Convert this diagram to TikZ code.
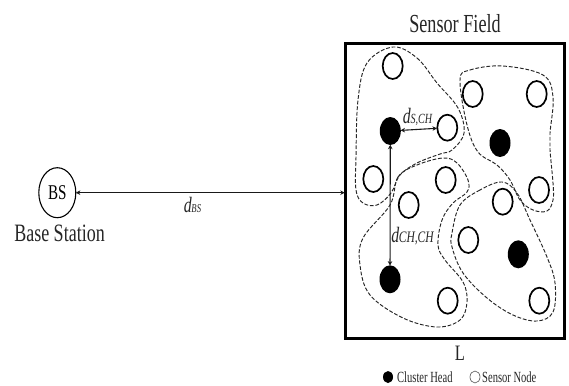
\documentclass[tikz,border=0pt]{standalone}
\usepackage{fontspec}
\setmainfont{Liberation Serif}
\usetikzlibrary{arrows.meta,shapes.geometric}
\newcommand\lbl[3]{\scalebox{#1}[1]{\fontsize{#2}{#2}\selectfont #3}}
\newcommand\dlbl[2]{\scalebox{.72}[1]{\itshape\fontsize{22}{22}\selectfont d\kern-.5pt\fontsize{#1}{#1}\selectfont #2}}
\tikzset{
  sensor/.style={ellipse,draw=black,line width=1.7pt,fill=white,inner sep=0pt,minimum width=20pt,minimum height=26pt},
  head/.style={ellipse,fill=black,inner sep=0pt,minimum width=21pt,minimum height=28pt},
  cluster/.style={draw=black!85,line width=.95pt,dash pattern=on 3.8pt off 1.8pt},
  link/.style={{Stealth[length=4.5pt,width=4.5pt]}-{Stealth[length=4.5pt,width=4.5pt]},line width=1.1pt,black!90,shorten <=-.5pt,shorten >=-.5pt},
  txt/.style={inner sep=0pt,text=black!85}
}
\begin{document}
\begin{tikzpicture}[x=1pt,y=-1pt]
\useasboundingbox (0,0) rectangle (569,385);
% clusters
\draw[cluster] plot[smooth cycle,tension=.6] coordinates {(393,47)(417,58)(437,83)(458,108)(464,133)(452,150)(440,154)(417,163)(400,175)(391,193)(377,205)(363,203)(356,190)(356,157)(358,100)(367,63)};
\draw[cluster] plot[smooth cycle,tension=.6] coordinates {(460,80)(470,70)(503,66)(543,75)(553,97)(550,133)(550,150)(553,183)(553,200)(547,211)(533,210)(520,200)(510,180)(497,165)(478,152)(467,125)};
\draw[cluster] plot[smooth cycle,tension=.6] coordinates {(390,205)(398,177)(417,165)(443,158)(457,163)(468,180)(467,192)(453,203)(442,220)(438,245)(445,260)(463,282)(467,302)(460,320)(437,327)(403,318)(370,295)(360,265)(363,238)};
\draw[cluster] plot[smooth cycle,tension=.6] coordinates {(502,182)(480,190)(460,205)(452,233)(452,247)(463,273)(487,298)(513,315)(537,321)(553,312)(555,283)(547,257)(530,220)(517,193)};
% field
\node[draw=black,line width=2.8pt,inner sep=0pt,minimum width=219pt,minimum height=295pt] (field) at (455.2,191) {};
\node[txt] (ftitle) at (455,23.5) {\lbl{.7}{26}{Sensor Field}};
\node[txt] (lside) at (460,353) {\lbl{.75}{22}{L}};
% nodes
\node[sensor] (s1) at (392.7,66) {};
\node[sensor] (s2) at (472.7,94) {};
\node[sensor] (s3) at (536.7,94) {};
\node[sensor] (s4) at (447.3,127.7) {};
\node[sensor] (s5) at (373.3,179) {};
\node[sensor] (s6) at (445.7,180) {};
\node[sensor] (s7) at (539,190) {};
\node[sensor] (s8) at (408.7,205) {};
\node[sensor] (s9) at (502.7,201.7) {};
\node[sensor] (s10) at (468.3,240) {};
\node[sensor] (s11) at (447.7,300.7) {};
\node[sensor] (s12) at (539.3,300.7) {};
\node[head] (h1) at (390.3,131) {};
\node[head] (h2) at (500,143) {};
\node[head] (h3) at (518.3,254.3) {};
\node[head] (h4) at (390,279.3) {};
% base station
\node[ellipse,draw=black,line width=1.1pt,inner sep=0pt,minimum width=37pt,minimum height=50pt] (bs) at (57.3,192.7) {\lbl{.72}{21}{BS}};
\node[txt] (bstitle) at (59.5,233) {\lbl{.72}{25}{Base Station}};
% links
\draw[link] (bs.east) -- (field.west |- bs.east);
\draw[link] (h1) -- (s4);
\draw[link] (h1) -- (h4);
\node[txt] (dsch) at (417.5,116.5) {\dlbl{14}{S,CH}};
\node[txt] (dchch) at (412.5,236.5) {\dlbl{16}{CH,CH}};
\node[txt] (dbs) at (192.5,204.5) {\dlbl{12}{BS}};
% legend
\node[ellipse,fill=black,inner sep=0pt,minimum width=10pt,minimum height=12pt] (lgh) at (388,377) {};
\node[txt,anchor=west] (lght) at (397,376.8) {\lbl{.68}{15.5}{Cluster Head}};
\node[ellipse,draw=black!70,line width=.6pt,inner sep=0pt,minimum width=10pt,minimum height=12pt] (lgs) at (475,377) {};
\node[txt,anchor=west] (lgst) at (482,376.8) {\lbl{.68}{15.5}{Sensor Node}};
\end{tikzpicture}
\end{document}
